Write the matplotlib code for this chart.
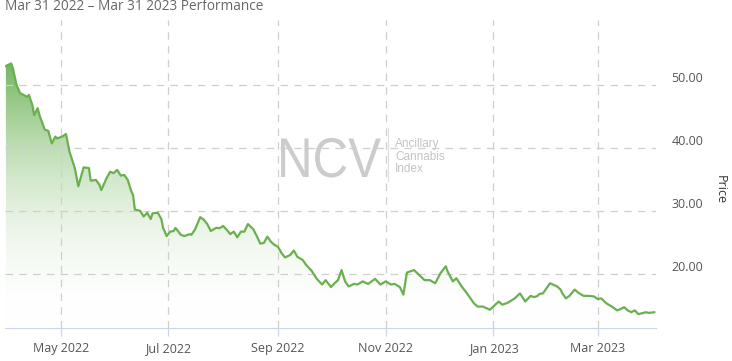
import datetime as dt
import numpy as np
import matplotlib
matplotlib.use("Agg")
import matplotlib.pyplot as plt
import matplotlib.dates as mdates
from matplotlib.colors import LinearSegmentedColormap
from matplotlib.textpath import TextPath
from matplotlib.patches import PathPatch
from matplotlib.font_manager import FontProperties
from matplotlib.transforms import Affine2D, IdentityTransform

# days after Mar 31 2022 and closing price
start = dt.date(2022, 3, 31)
day_offsets = [0, 3, 4, 6, 8, 10, 12, 13, 15, 16, 18, 19, 22, 24, 26, 28, 29, 32, 34, 36,
               39, 41, 44, 47, 48, 51, 53, 54, 57, 59, 61, 63, 65, 67, 69, 71, 72, 73, 76, 78,
               80, 82, 83, 86, 88, 89, 91, 93, 95, 96, 99, 101, 104, 105, 107, 110, 112, 114, 116, 119,
               121, 123, 125, 127, 129, 131, 133, 135, 137, 140, 142, 144, 146, 148, 150, 152, 154, 156, 158, 161,
               163, 165, 168, 170, 173, 176, 179, 181, 184, 186, 188, 190, 192, 194, 197, 199, 202, 205, 209, 212,
               215, 218, 220, 223, 225, 227, 231, 234, 237, 240, 243, 246, 249, 250, 253, 255, 258, 261, 265, 267,
               270, 274, 277, 279, 281, 284, 288, 291, 294, 297, 299, 301, 302, 304, 306, 308, 312, 314, 315, 317,
               319, 322, 324, 327, 330, 333, 335, 337, 340, 343, 346, 347, 350, 352, 354, 356, 358, 361, 362, 364,
               367]
prices = [53.0, 53.4, 52.6, 50.0, 48.7, 48.4, 48.1, 48.4, 46.8, 45.2, 46.3, 45.2, 42.9, 42.7, 40.7, 41.8, 41.5, 41.8, 42.2, 39.4,
          36.8, 33.9, 36.9, 36.8, 34.8, 34.9, 34.1, 33.3, 35.2, 36.2, 36.0, 36.5, 35.6, 35.7, 34.9, 33.1, 32.5, 30.2, 30.0, 29.1,
          29.7, 28.7, 29.6, 29.7, 28.7, 27.3, 26.0, 26.7, 26.8, 27.3, 26.2, 26.0, 26.3, 26.2, 27.0, 29.0, 28.6, 27.9, 26.8, 27.3,
          27.25, 27.6, 27.0, 26.3, 26.7, 25.8, 26.7, 26.7, 27.9, 27.1, 26.0, 24.8, 24.9, 25.9, 25.1, 24.6, 24.3, 23.3, 22.6, 23.0,
          23.7, 22.7, 22.2, 21.4, 20.5, 19.2, 18.3, 19.0, 17.9, 18.5, 19.0, 20.6, 18.8, 18.0, 18.4, 18.3, 18.8, 18.4, 19.2, 18.3,
          18.8, 18.3, 18.4, 17.9, 16.7, 20.2, 20.6, 19.8, 19.0, 19.0, 18.5, 20.1, 21.2, 20.4, 18.8, 19.3, 18.0, 16.9, 15.3, 14.8,
          14.8, 14.3, 15.1, 15.6, 15.1, 15.4, 16.1, 16.9, 15.6, 16.5, 16.3, 16.5, 16.8, 16.9, 17.7, 18.5, 18.0, 17.5, 16.9, 16.1,
          16.5, 17.5, 17.0, 16.5, 16.5, 16.4, 16.0, 16.1, 15.3, 14.8, 14.2, 14.3, 14.7, 14.2, 13.9, 14.2, 13.6, 13.8, 13.9, 13.8,
          13.9]
y_ticks = [20, 30, 40, 50]
title = "Mar 31 2022 \u2013 Mar 31 2023 Performance"

dates = [start + dt.timedelta(days=d) for d in day_offsets]
x = mdates.date2num(dates)

plt.rcParams['font.family'] = ['Open Sans', 'DejaVu Sans']

fig = plt.figure(figsize=(7.32, 3.61), dpi=100)
ax = fig.add_axes([5 / 732, 1 - 328 / 361, 651 / 732, 308 / 361])

x0 = mdates.date2num(start) - 0.5
x1 = mdates.date2num(start + dt.timedelta(days=368))
y0, y1 = 11.4, 60.3
ax.set_xlim(x0, x1)
ax.set_ylim(y0, y1)

# gradient area under the line
green = "#6ab04f"
cmap = LinearSegmentedColormap.from_list("fade", [(1, 1, 1, 0), (0.42, 0.70, 0.33, 0.95)])
grad = np.linspace(0, 1, 256).reshape(-1, 1)
top = max(prices)
img = ax.imshow(grad, cmap=cmap, aspect="auto", origin="lower",
                extent=[x0, x1, y0, top], zorder=1)
poly = ax.fill_between(x, prices, y0, color="none", lw=0)
clip = poly.get_paths()[0]
img.set_clip_path(clip, transform=ax.transData)
ax.plot(x, prices, color=green, lw=1.6, zorder=3, solid_joinstyle="round")

# grid
for v in y_ticks:
    ax.axhline(v, color="#cfcfcf", lw=0.9, dashes=(6, 5), zorder=2)
ax.xaxis.set_major_locator(mdates.MonthLocator(bymonth=[1, 3, 5, 7, 9, 11]))
ax.xaxis.set_major_formatter(mdates.DateFormatter("%b %Y"))
ax.grid(axis="x", color="#cfcfcf", lw=0.9, dashes=(6, 5), zorder=2)

for s in ["top", "left", "right"]:
    ax.spines[s].set_visible(False)
ax.spines["bottom"].set_color("#ccd6eb")
ax.tick_params(axis="x", colors="#ccd6eb", length=6, width=0.9, labelcolor="#555555",
               labelsize=9, pad=4)
ax.yaxis.tick_right()
ax.set_yticks(y_ticks)
ax.set_yticklabels([f"{v:.2f}" for v in y_ticks])
ax.tick_params(axis="y", length=0, labelcolor="#555555", labelsize=9, pad=11)
for lab in ax.get_yticklabels():
    lab.set_verticalalignment("bottom")
ax.yaxis.set_label_position("right")
ax.set_ylabel("Price", rotation=270, color="#333333", fontsize=9, va="center")
ax.yaxis.set_label_coords(1.098, 0.448)

# watermark, squeezed sideways like the logo
tp = TextPath((0, 0), "NCV", size=56, prop=FontProperties(family="Liberation Sans"))
logo = PathPatch(tp, facecolor="#cccccc", edgecolor="none",
                 transform=Affine2D().scale(0.88, 1.0).translate(277, 361 - 177) + IdentityTransform())
fig.add_artist(logo)
fig.add_artist(plt.Line2D([388 / 732, 388 / 732], [1 - 128 / 361, 1 - 181 / 361],
                          color="#dddddd", lw=0.8))
fig.text(395 / 732, 1 - 156.5 / 361, "Ancillary\nCannabis\nIndex", fontsize=8.5,
         color="#c4c4c4", family="Liberation Sans", va="center", ha="left", linespacing=1.0)

fig.text(5 / 732, 1 - 7 / 361, title, fontsize=9.8, color="#666666", va="center", ha="left")

fig.savefig("out.png", dpi=100)
